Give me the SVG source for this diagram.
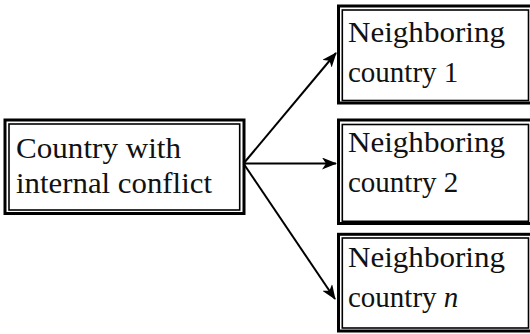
<svg xmlns="http://www.w3.org/2000/svg" width="530" height="334" viewBox="0 0 530 334">
  <defs>
    <style>
      .outer { fill: #fff; stroke: #000; stroke-width: 3; }
      .inner { fill: none; stroke: #000; stroke-width: 1.6; }
      .edge { stroke: #000; stroke-width: 2; fill: none; marker-end: url(#arr); }
    </style>
    <marker id="arr" viewBox="0 0 15 12" refX="14" refY="6" markerWidth="15" markerHeight="12" markerUnits="userSpaceOnUse" orient="auto">
      <path d="M0,0 L15,6 L0,12 L4,6 Z" fill="#000"/>
    </marker>
  </defs>
  <g font-family="'Liberation Serif', 'Times New Roman', serif" font-size="29" fill="#111">
  <g id="n0">
    <rect class="outer" x="5" y="120" width="239" height="93.5"/>
    <rect class="inner" x="9" y="124" width="230.7" height="86"/>
    <text x="16" y="158" textLength="165" lengthAdjust="spacingAndGlyphs">Country with</text>
    <text x="16" y="193" textLength="196" lengthAdjust="spacingAndGlyphs">internal conflict</text>
  </g>
  <g id="n1">
    <rect class="outer" x="338.5" y="6" width="196" height="97"/>
    <rect class="inner" x="342.3" y="10" width="186.2" height="90.5"/>
    <text x="348" y="42" textLength="157" lengthAdjust="spacingAndGlyphs">Neighboring</text>
    <text x="348" y="82">country 1</text>
  </g>
  <g id="n2">
    <rect class="outer" x="338.5" y="120" width="196" height="103.5"/>
    <rect class="inner" x="342.3" y="124.5" width="186.2" height="96.8"/>
    <text x="348" y="152" textLength="157" lengthAdjust="spacingAndGlyphs">Neighboring</text>
    <text x="348" y="192">country 2</text>
  </g>
  <g id="n3">
    <rect class="outer" x="338.5" y="234.3" width="196" height="96.7"/>
    <rect class="inner" x="342.3" y="238" width="186.2" height="90"/>
    <text x="348" y="267" textLength="157" lengthAdjust="spacingAndGlyphs">Neighboring</text>
    <text x="348" y="307">country <tspan font-style="italic">n</tspan></text>
  </g>
  </g>
  <g id="edges">
    <line class="edge" x1="243.5" y1="163.5" x2="336" y2="53"/>
    <line class="edge" x1="243.5" y1="163.5" x2="336" y2="163.5"/>
    <line class="edge" x1="243.5" y1="163.5" x2="335" y2="299"/>
  </g>
</svg>
